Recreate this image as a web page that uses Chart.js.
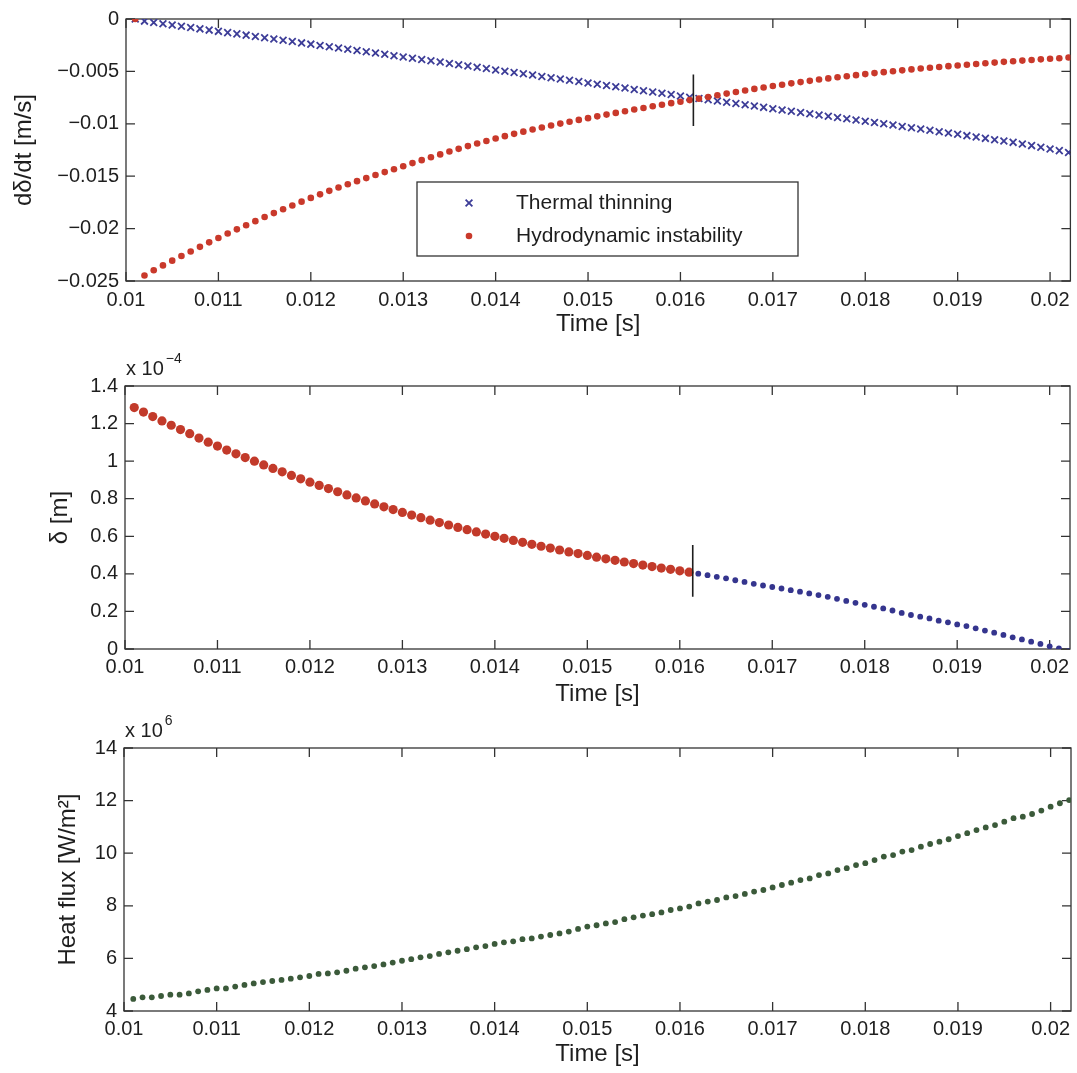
<!DOCTYPE html>
<html>
<head>
<meta charset="utf-8">
<title>Film thinning, thickness and heat flux</title>
<script src="https://cdn.jsdelivr.net/npm/chart.js@4.4.1/dist/chart.umd.min.js"></script>
<style>
  html, body { margin: 0; padding: 0; background: #ffffff; }
  #wrap { position: relative; width: 1077px; height: 1073px; background: #ffffff; }
  canvas { position: absolute; left: 0; }
</style>
</head>
<body>
<div id="wrap">
  <canvas id="rate"  width="1077" height="345" style="top:0px"></canvas>
  <canvas id="thick" width="1077" height="370" style="top:345px"></canvas>
  <canvas id="flux"  width="1077" height="358" style="top:715px"></canvas>
</div>
<script>
// ---------- data ----------
// sample times [s]
const times = [
  0.0101, 0.0102, 0.0103, 0.0104, 0.0105, 0.0106, 0.0107, 0.0108, 0.0109, 0.0110,
  0.0111, 0.0112, 0.0113, 0.0114, 0.0115, 0.0116, 0.0117, 0.0118, 0.0119, 0.0120,
  0.0121, 0.0122, 0.0123, 0.0124, 0.0125, 0.0126, 0.0127, 0.0128, 0.0129, 0.0130,
  0.0131, 0.0132, 0.0133, 0.0134, 0.0135, 0.0136, 0.0137, 0.0138, 0.0139, 0.0140,
  0.0141, 0.0142, 0.0143, 0.0144, 0.0145, 0.0146, 0.0147, 0.0148, 0.0149, 0.0150,
  0.0151, 0.0152, 0.0153, 0.0154, 0.0155, 0.0156, 0.0157, 0.0158, 0.0159, 0.0160,
  0.0161, 0.0162, 0.0163, 0.0164, 0.0165, 0.0166, 0.0167, 0.0168, 0.0169, 0.0170,
  0.0171, 0.0172, 0.0173, 0.0174, 0.0175, 0.0176, 0.0177, 0.0178, 0.0179, 0.0180,
  0.0181, 0.0182, 0.0183, 0.0184, 0.0185, 0.0186, 0.0187, 0.0188, 0.0189, 0.0190,
  0.0191, 0.0192, 0.0193, 0.0194, 0.0195, 0.0196, 0.0197, 0.0198, 0.0199, 0.0200,
  0.0201, 0.0202
];

// thinning rate by thermal thinning [m/s]
const thermalRate = [
  0, -0.00020, -0.00033, -0.00045, -0.00057, -0.00069, -0.00081, -0.00094, -0.00106, -0.00118,
  -0.00130, -0.00142, -0.00154, -0.00167, -0.00179, -0.00191, -0.00203, -0.00215, -0.00228, -0.00240,
  -0.00252, -0.00264, -0.00276, -0.00289, -0.00301, -0.00313, -0.00325, -0.00337, -0.00350, -0.00362,
  -0.00374, -0.00386, -0.00399, -0.00411, -0.00424, -0.00436, -0.00448, -0.00461, -0.00473, -0.00486,
  -0.00498, -0.00510, -0.00523, -0.00535, -0.00548, -0.00560, -0.00572, -0.00585, -0.00597, -0.00610,
  -0.00622, -0.00634, -0.00647, -0.00659, -0.00672, -0.00684, -0.00696, -0.00709, -0.00721, -0.00734,
  -0.00746, -0.00758, -0.00770, -0.00782, -0.00794, -0.00807, -0.00819, -0.00831, -0.00843, -0.00856,
  -0.00868, -0.00880, -0.00892, -0.00904, -0.00916, -0.00928, -0.00940, -0.00951, -0.00963, -0.00975,
  -0.00987, -0.01000, -0.01012, -0.01025, -0.01037, -0.01050, -0.01062, -0.01075, -0.01088, -0.01100,
  -0.01113, -0.01126, -0.01139, -0.01152, -0.01164, -0.01177, -0.01192, -0.01208, -0.01224, -0.01240,
  -0.01256, -0.01273
];

// thinning rate by hydrodynamic instability [m/s]
const hydroRate = [
  0, -0.02448, -0.02398, -0.02351, -0.02306, -0.02261, -0.02218, -0.02174, -0.02131, -0.02089,
  -0.02047, -0.02007, -0.01968, -0.01929, -0.01890, -0.01852, -0.01815, -0.01779, -0.01743, -0.01707,
  -0.01673, -0.01640, -0.01608, -0.01577, -0.01547, -0.01518, -0.01489, -0.01461, -0.01433, -0.01405,
  -0.01375, -0.01347, -0.01319, -0.01292, -0.01265, -0.01239, -0.01213, -0.01188, -0.01164, -0.01140,
  -0.01118, -0.01096, -0.01075, -0.01055, -0.01035, -0.01016, -0.00998, -0.00980, -0.00963, -0.00946,
  -0.00929, -0.00912, -0.00896, -0.00880, -0.00864, -0.00849, -0.00833, -0.00818, -0.00803, -0.00789,
  -0.00774, -0.00760, -0.00744, -0.00728, -0.00712, -0.00697, -0.00682, -0.00667, -0.00653, -0.00640,
  -0.00627, -0.00614, -0.00602, -0.00590, -0.00578, -0.00567, -0.00556, -0.00546, -0.00536, -0.00526,
  -0.00516, -0.00507, -0.00498, -0.00490, -0.00481, -0.00473, -0.00465, -0.00458, -0.00450, -0.00443,
  -0.00436, -0.00429, -0.00422, -0.00416, -0.00409, -0.00403, -0.00397, -0.00391, -0.00385, -0.00379,
  -0.00374, -0.00368
];

// film thickness while instability governs (first 61 samples) [1e-4 m]
const thicknessHydroE4 = [
  1.285, 1.261, 1.237, 1.214, 1.191, 1.168, 1.146, 1.123, 1.101, 1.080,
  1.059, 1.039, 1.019, 1.000, 0.980, 0.961, 0.943, 0.924, 0.906, 0.888,
  0.871, 0.854, 0.837, 0.820, 0.804, 0.788, 0.772, 0.757, 0.742, 0.727,
  0.713, 0.699, 0.686, 0.673, 0.660, 0.647, 0.635, 0.623, 0.612, 0.600,
  0.589, 0.578, 0.568, 0.557, 0.547, 0.537, 0.527, 0.517, 0.508, 0.498,
  0.489, 0.480, 0.472, 0.463, 0.455, 0.447, 0.439, 0.431, 0.424, 0.416,
  0.409
];

// film thickness while thermal thinning governs (remaining 41 samples) [1e-4 m]
const thicknessThermalE4 = [
  0.401, 0.393, 0.384, 0.376, 0.366, 0.357, 0.347, 0.338, 0.330, 0.322,
  0.313, 0.305, 0.296, 0.287, 0.278, 0.267, 0.256, 0.246, 0.235, 0.225,
  0.216, 0.205, 0.192, 0.181, 0.172, 0.163, 0.151, 0.142, 0.131, 0.122,
  0.110, 0.098, 0.087, 0.075, 0.062, 0.051, 0.039, 0.027, 0.014, 0.003,
  -0.012
];

// wall heat flux [1e6 W/m^2]
const heatFluxE6 = [
  4.46, 4.52, 4.52, 4.57, 4.62, 4.62, 4.67, 4.75, 4.80, 4.86,
  4.86, 4.93, 4.99, 5.05, 5.10, 5.14, 5.18, 5.23, 5.28, 5.33,
  5.41, 5.43, 5.47, 5.53, 5.61, 5.66, 5.71, 5.77, 5.84, 5.91,
  5.97, 6.04, 6.09, 6.17, 6.23, 6.29, 6.35, 6.42, 6.47, 6.55,
  6.61, 6.65, 6.73, 6.76, 6.83, 6.89, 6.95, 7.02, 7.12, 7.21,
  7.26, 7.33, 7.38, 7.49, 7.56, 7.63, 7.68, 7.75, 7.84, 7.90,
  7.97, 8.09, 8.16, 8.22, 8.32, 8.37, 8.45, 8.54, 8.60, 8.70,
  8.79, 8.88, 8.98, 9.04, 9.17, 9.23, 9.36, 9.43, 9.55, 9.62,
  9.74, 9.87, 9.93, 10.06, 10.12, 10.25, 10.35, 10.44, 10.53, 10.65,
  10.76, 10.88, 10.98, 11.07, 11.20, 11.33, 11.39, 11.49, 11.62, 11.77,
  11.90, 12.02
];

// switch-over time between the two regimes, and the marker's vertical span
const transitionTime = 0.01614;
const rateMarkerSpan = [-0.0053, -0.0102];
const thicknessMarkerSpan = [0.553, 0.278];

// axes
const xRange = [0.01, 0.02022];
const xTickValues = [0.01, 0.011, 0.012, 0.013, 0.014, 0.015, 0.016, 0.017, 0.018, 0.019, 0.02];
const xTickLabels = ['0.01', '0.011', '0.012', '0.013', '0.014', '0.015', '0.016', '0.017', '0.018', '0.019', '0.02'];
const rateTickValues = [0, -0.005, -0.01, -0.015, -0.02, -0.025];
const rateTickLabels = ['0', '\u22120.005', '\u22120.01', '\u22120.015', '\u22120.02', '\u22120.025'];
const thickTickValues = [0, 0.2, 0.4, 0.6, 0.8, 1, 1.2, 1.4];
const thickTickLabels = ['0', '0.2', '0.4', '0.6', '0.8', '1', '1.2', '1.4'];
const fluxTickValues = [4, 6, 8, 10, 12, 14];
const fluxTickLabels = ['4', '6', '8', '10', '12', '14'];

// ---------- styling ----------
const FONT = "'Liberation Sans', Arial, Helvetica, sans-serif";
const INK = '#1e1e1e';
const FRAME = '#333333';
const BLUE = '#3d3d98';
const BLUE_DOT = '#35358e';
const RED = '#c9392b';
const RED_BIG = '#c23a2a';
const GREEN = '#3b5a3a';
const TICK_LEN = 9;

Chart.defaults.font.family = FONT;
Chart.defaults.color = INK;

const toPoints = (xs, ys) => ys.map((v, i) => ({ x: xs[i], y: v }));

// box frame with inward tick marks on all four sides
const framePlugin = {
  id: 'frame',
  beforeDatasetsDraw(chart) {
    const { ctx, chartArea: a, scales: { x, y } } = chart;
    ctx.save();
    ctx.strokeStyle = FRAME;
    ctx.lineWidth = 1.3;
    ctx.strokeRect(a.left, a.top, a.right - a.left, a.bottom - a.top);
    ctx.beginPath();
    for (const t of x.ticks) {
      const px = x.getPixelForValue(t.value);
      ctx.moveTo(px, a.bottom); ctx.lineTo(px, a.bottom - TICK_LEN);
      ctx.moveTo(px, a.top); ctx.lineTo(px, a.top + TICK_LEN);
    }
    for (const t of y.ticks) {
      const py = y.getPixelForValue(t.value);
      ctx.moveTo(a.left, py); ctx.lineTo(a.left + TICK_LEN, py);
      ctx.moveTo(a.right, py); ctx.lineTo(a.right - TICK_LEN, py);
    }
    ctx.stroke();
    ctx.restore();
  }
};

// "x 10^n" scale factor above the y axis
const exponentPlugin = {
  id: 'exponent',
  afterDraw(chart, args, opts) {
    if (!opts || !opts.power) return;
    const { ctx, chartArea: a } = chart;
    ctx.save();
    ctx.fillStyle = INK;
    ctx.textAlign = 'left';
    ctx.textBaseline = 'alphabetic';
    ctx.font = '20px ' + FONT;
    const base = 'x 10';
    ctx.fillText(base, a.left + 1, a.top - 11);
    const w = ctx.measureText(base).width;
    ctx.font = '14px ' + FONT;
    ctx.fillText(opts.power, a.left + 3 + w, a.top - 23);
    ctx.restore();
  }
};

// boxed legend inside the plot area
const boxLegendPlugin = {
  id: 'boxLegend',
  afterDraw(chart, args, opts) {
    if (!opts || !opts.box) return;
    const { ctx } = chart;
    const b = opts.box;
    ctx.save();
    ctx.fillStyle = '#ffffff';
    ctx.fillRect(b.left, b.top, b.right - b.left, b.bottom - b.top);
    ctx.strokeStyle = FRAME;
    ctx.lineWidth = 1.3;
    ctx.strokeRect(b.left, b.top, b.right - b.left, b.bottom - b.top);
    ctx.font = '21px ' + FONT;
    ctx.textAlign = 'left';
    ctx.textBaseline = 'middle';
    opts.entries.forEach((idx, row) => {
      const ds = chart.data.datasets[idx];
      const y = opts.rowY[row];
      ctx.fillStyle = ds.pointBackgroundColor;
      ctx.strokeStyle = ds.pointBorderColor;
      ctx.lineWidth = ds.pointBorderWidth;
      Chart.helpers.drawPoint(ctx, {
        pointStyle: ds.pointStyle, radius: ds.pointRadius,
        borderWidth: ds.pointBorderWidth, rotation: 0
      }, opts.markerX, y);
      ctx.fillStyle = INK;
      ctx.fillText(ds.label, opts.textX, y);
    });
    ctx.restore();
  }
};

function makePanel(canvasId, spec) {
  return new Chart(document.getElementById(canvasId), {
    type: 'scatter',
    data: { datasets: spec.datasets },
    options: {
      responsive: false,
      animation: false,
      devicePixelRatio: 1,
      layout: { padding: { left: 0, right: spec.padRight, top: spec.padTop, bottom: 0 } },
      plugins: {
        legend: { display: false },
        tooltip: { enabled: false },
        exponent: spec.exponent || {},
        boxLegend: spec.legend || {}
      },
      scales: {
        x: {
          type: 'linear',
          position: 'bottom',
          min: xRange[0],
          max: xRange[1],
          grid: { display: false, drawTicks: false },
          border: { display: false },
          afterBuildTicks: (s) => { s.ticks = xTickValues.map(v => ({ value: v })); },
          afterFit: (s) => { s.height = spec.xHeight; },
          ticks: {
            autoSkip: false, maxRotation: 0, minRotation: 0,
            padding: spec.xTickPad,
            font: { size: 20 }, color: INK,
            callback: (v, i) => xTickLabels[i]
          },
          title: {
            display: true, text: 'Time [s]', color: INK,
            font: { size: 24 }, padding: { top: 0, bottom: spec.xTitlePad }
          }
        },
        y: {
          type: 'linear',
          position: 'left',
          min: spec.yRange[0],
          max: spec.yRange[1],
          grid: { display: false, drawTicks: false },
          border: { display: false },
          afterBuildTicks: (s) => { s.ticks = spec.yTickValues.map(v => ({ value: v })); },
          afterFit: (s) => { s.width = spec.left; },
          ticks: {
            autoSkip: false, padding: 7,
            font: { size: 20 }, color: INK,
            callback: (v, i) => spec.yTickLabels[i]
          },
          title: {
            display: true, text: spec.yTitle, color: INK,
            font: { size: 24 }, padding: { top: spec.yTitlePad, bottom: 0 }
          }
        }
      }
    },
    plugins: [framePlugin, exponentPlugin, boxLegendPlugin]
  });
}

// ---------- panel 1: thinning rates ----------
makePanel('rate', {
  left: 126, padRight: 5, padTop: 16, xHeight: 64, xTickPad: 7, xTitlePad: 6,
  yRange: [-0.025, 0], yTickValues: rateTickValues, yTickLabels: rateTickLabels,
  yTitle: 'd\u03B4/dt [m/s]', yTitlePad: 10,
  legend: {
    box: { left: 417, top: 182, right: 798, bottom: 256 },
    entries: [0, 1], rowY: [203, 236], markerX: 469, textX: 516
  },
  datasets: [
    {
      label: 'Thermal thinning',
      data: toPoints(times, thermalRate),
      pointStyle: 'crossRot', pointRadius: 4.8,
      pointBorderWidth: 1.8, pointBorderColor: BLUE, pointBackgroundColor: BLUE,
      borderColor: BLUE, backgroundColor: BLUE, order: 2
    },
    {
      label: 'Hydrodynamic instability',
      data: toPoints(times, hydroRate),
      pointStyle: 'circle', pointRadius: 3.3,
      pointBorderWidth: 0, pointBorderColor: RED, pointBackgroundColor: RED,
      borderColor: RED, backgroundColor: RED, order: 1
    },
    {
      label: 'Regime change',
      data: [{ x: transitionTime, y: rateMarkerSpan[0] }, { x: transitionTime, y: rateMarkerSpan[1] }],
      showLine: true, borderColor: INK, borderWidth: 1.6, pointRadius: 0, order: 0
    }
  ]
});

// ---------- panel 2: film thickness ----------
makePanel('thick', {
  left: 125, padRight: 7, padTop: 41, xHeight: 66, xTickPad: 6, xTitlePad: 6,
  yRange: [0, 1.4], yTickValues: thickTickValues, yTickLabels: thickTickLabels,
  yTitle: '\u03B4 [m]', yTitlePad: 46,
  exponent: { power: '\u22124' },
  datasets: [
    {
      label: 'Hydrodynamic instability',
      data: toPoints(times.slice(0, thicknessHydroE4.length), thicknessHydroE4),
      pointStyle: 'circle', pointRadius: 4.6,
      pointBorderWidth: 0, pointBorderColor: RED_BIG, pointBackgroundColor: RED_BIG, order: 2
    },
    {
      label: 'Thermal thinning',
      data: toPoints(times.slice(thicknessHydroE4.length), thicknessThermalE4),
      pointStyle: 'circle', pointRadius: 2.9,
      pointBorderWidth: 0, pointBorderColor: BLUE_DOT, pointBackgroundColor: BLUE_DOT, order: 1
    },
    {
      label: 'Regime change',
      data: [{ x: transitionTime, y: thicknessMarkerSpan[0] }, { x: transitionTime, y: thicknessMarkerSpan[1] }],
      showLine: true, borderColor: INK, borderWidth: 1.6, pointRadius: 0, order: 0
    }
  ]
});

// ---------- panel 3: heat flux ----------
makePanel('flux', {
  left: 124, padRight: 6, padTop: 33, xHeight: 62, xTickPad: 6, xTitlePad: 4,
  yRange: [4, 14], yTickValues: fluxTickValues, yTickLabels: fluxTickLabels,
  yTitle: 'Heat flux [W/m\u00B2]', yTitlePad: 54,
  exponent: { power: '6' },
  datasets: [
    {
      label: 'Heat flux',
      data: toPoints(times, heatFluxE6),
      pointStyle: 'circle', pointRadius: 2.9,
      pointBorderWidth: 0, pointBorderColor: GREEN, pointBackgroundColor: GREEN, order: 1
    }
  ]
});
</script>
</body>
</html>
